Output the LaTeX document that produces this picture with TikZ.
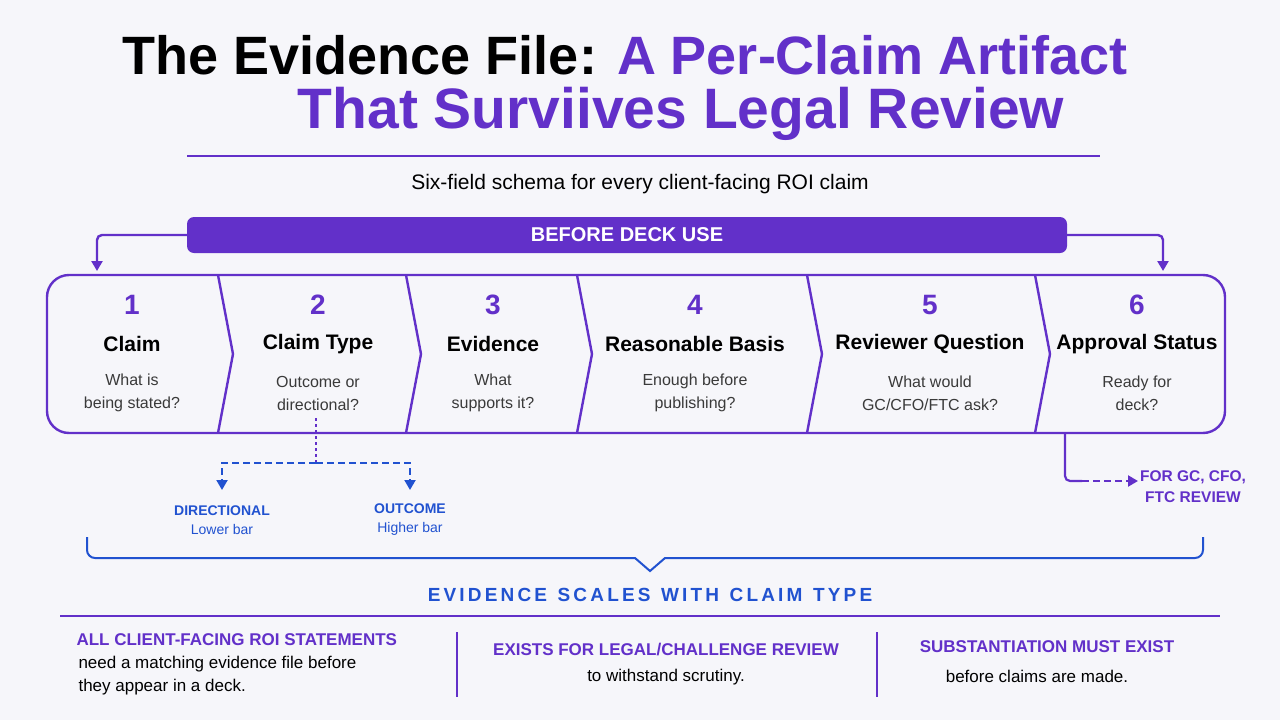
\documentclass[tikz,border=0pt]{standalone}
\usepackage{fontspec}
\setmainfont{Liberation Sans}
\usetikzlibrary{arrows.meta}
\definecolor{pur}{HTML}{6230C9}
\definecolor{blu}{HTML}{2152D0}
\definecolor{bg}{HTML}{F6F6FA}
\definecolor{gr}{HTML}{3A3A3A}
\tikzset{
 num/.style={text=pur,font=\fontsize{28}{28}\selectfont\bfseries},
 ttl/.style={font=\fontsize{21}{21}\selectfont\bfseries},
 qst/.style={text=gr,font=\fontsize{16}{23}\selectfont,align=center},
 blab/.style={text=blu,font=\fontsize{14}{19}\selectfont\bfseries,align=center},
 pline/.style={draw=pur,line width=2.4pt},
 arr/.style={-{Triangle[length=10pt,width=11pt]}},
 foot/.style={text=pur,font=\fontsize{17}{20}\selectfont\bfseries},
 body/.style={font=\fontsize{17}{23}\selectfont},
}
\begin{document}
\begin{tikzpicture}[x=1pt,y=-1pt]
\fill[bg] (0,0) rectangle (1280,720);
\useasboundingbox (0,0) rectangle (1280,720);
% title
\node[font=\fontsize{54}{56}\selectfont\bfseries] (t1) at (625,55) {The Evidence File: \textcolor{pur}{A Per-Claim Artifact}};
\node[font=\fontsize{57}{60}\selectfont\bfseries,text=pur] (t2) at (681,114) {That Surviives Legal Review};
\draw[pur,line width=1.6pt] (187,156) -- (1100,156);
\node[font=\fontsize{21}{24}\selectfont] (sub) at (640,184) {Six-field schema for every client-facing ROI claim};
% banner
\node[fill=pur,rounded corners=7pt,minimum width=880pt,minimum height=36pt,inner sep=0pt,text=white,font=\fontsize{20}{20}\selectfont\bfseries] (ban) at (627,235) {BEFORE DECK USE};
\coordinate (la) at (97,271);
\coordinate (ra) at (1163,271);
\draw[pline,arr,rounded corners=5pt] (ban.west) -| (la);
\draw[pline,arr,rounded corners=5pt] (ban.east) -| (ra);
% main box
\draw[pline,rounded corners=22pt] (47,275) rectangle (1225,433);
\foreach \x in {218,406,577,807,1035}{
 \draw[pline] (\x,275) -- (\x+15,354) -- (\x,433);
}
\foreach \i/\x/\t/\q in {1/132/Claim/{What is\\being stated?},2/318/Claim Type/{Outcome or\\directional?},3/493/Evidence/{What\\supports it?},4/695/Reasonable Basis/{Enough before\\publishing?},5/930/Reviewer Question/{What would\\GC/CFO/FTC ask?},6/1137/Approval Status/{Ready for\\deck?}}{
 \node[num] (n\i) at (\x,305) {\i};
 \node[ttl] (h\i) at (\x,344) {\t};
 \node[qst] (q\i) at (\x,393) {\q};
}
% claim type branch
\coordinate (ct) at (316,418);
\coordinate (cj) at (316,463);
\node[blab] (dir) at (222,520) {DIRECTIONAL\\\textmd{Lower bar}};
\node[blab] (out) at (410,520) {OUTCOME\\\textmd{Higher bar}};
\coordinate (de) at (222,490);
\coordinate (oe) at (410,490);
\draw[pur,dashed,line width=2pt] (ct) -- (cj);
\draw[blu,dash pattern=on 7pt off 4pt,line width=2pt,arr] (cj) -| (de);
\draw[blu,dash pattern=on 7pt off 4pt,line width=2pt,arr] (cj) -| (oe);
% approval branch
\coordinate (ap) at (1065,433);
\node[foot,font=\fontsize{15.5}{21}\selectfont\bfseries,align=center] (rev) at (1193,487) {FOR GC, CFO,\\FTC REVIEW};
\draw[pur,line width=2.2pt,rounded corners=5pt] (ap) -- (1065,481) -- (1082,481);
\draw[pur,dash pattern=on 7pt off 4pt,line width=2.2pt,arr] (1082,481) -- (1138,481);
% brace
\draw[blu,line width=2pt] (87,537) -- (87,550) to[out=-90,in=180] (95,558) -- (635,558) -- (650,571) -- (665,558) -- (1195,558) to[out=0,in=-90] (1203,550) -- (1203,537);
\node[text=blu,font=\fontsize{19}{20}\selectfont\bfseries] (ev) at (650,595) {E\,V\,I\,D\,E\,N\,C\,E\; S\,C\,A\,L\,E\,S\; W\,I\,T\,H\; C\,L\,A\,I\,M\; T\,Y\,P\,E};
\draw[pur,line width=1.2pt] (60,616) -- (1220,616);
\draw[pur,line width=1.4pt] (457,632) -- (457,697);
\draw[pur,line width=1.4pt] (877,632) -- (877,697);
% footer
\node[foot,anchor=west] (f1) at (73,640) {ALL CLIENT-FACING ROI STATEMENTS};
\node[body,anchor=west,align=left] (f1b) at (75,676) {need a matching evidence file before\\they appear in a deck.};
\node[foot] (f2) at (666,650) {EXISTS FOR LEGAL/CHALLENGE REVIEW};
\node[body] (f2b) at (666,677) {to withstand scrutiny.};
\node[foot] (f3) at (1047,647) {SUBSTANTIATION MUST EXIST};
\node[body] (f3b) at (1037,676) {before claims are made.};
\end{tikzpicture}
\end{document}
